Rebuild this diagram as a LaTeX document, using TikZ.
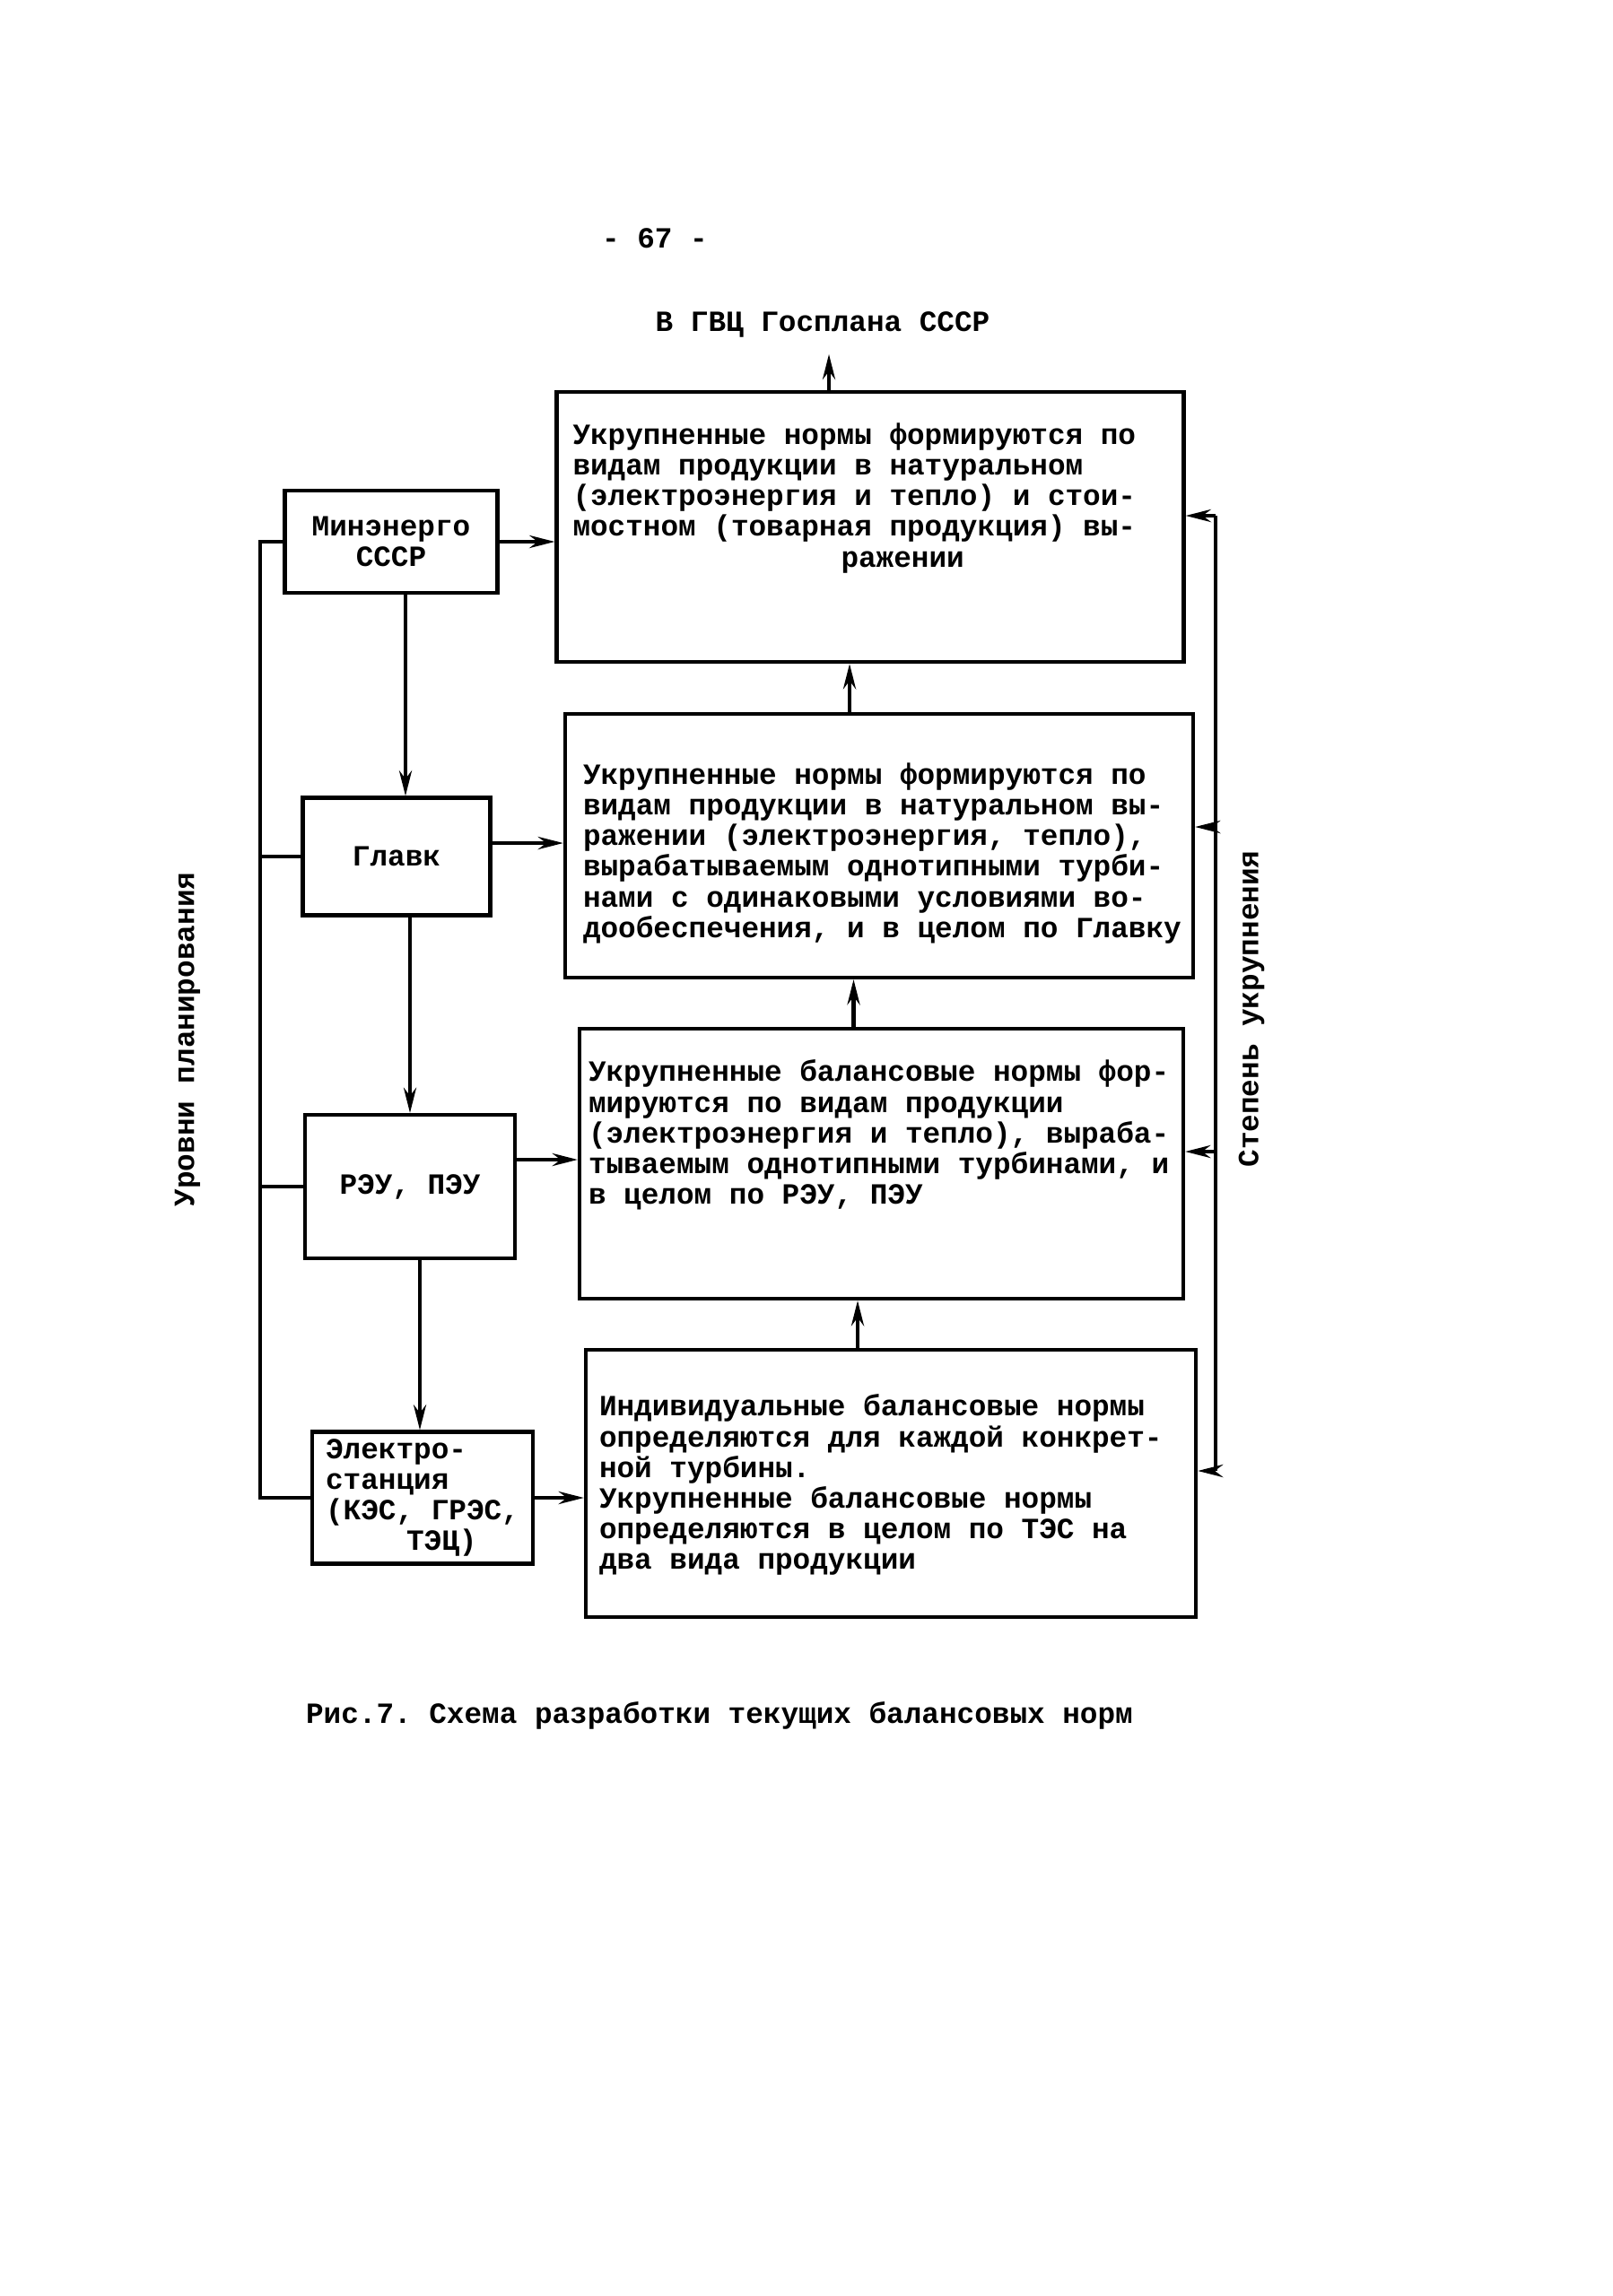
\documentclass[tikz,border=0pt]{standalone}
\usepackage{fontspec}
\setmonofont{Liberation Mono}
\usetikzlibrary{positioning, arrows.meta}

\begin{document}
\begin{tikzpicture}[
  line width=1.2pt,
  every node/.style={font=\ttfamily\bfseries\fontsize{9.3}{9.7}\selectfont},
  arr/.style={-{Stealth[length=8pt, width=4pt]}},
  normbox/.style={draw, inner sep=0pt},
  levelbox/.style={draw, inner sep=2pt, align=left},
  normtext/.style={inner sep=0pt, align=left, anchor=north west},
]

% page frame
\useasboundingbox (0,0) rectangle (17.97,-25.60);

% page number and destination
\node (pg) at (7.30,-2.66) {- 67 -};
\node (gvc) at (9.17,-3.62) {В ГВЦ Госплана СССР};

% right column: norm boxes
\node[normbox, minimum width=6.99cm, minimum height=3.01cm] (b1) at (9.70,-5.875) {};
\node[normbox, minimum width=7.00cm, minimum height=2.94cm] (b2) at (9.80,-9.43) {};
\node[normbox, minimum width=6.73cm, minimum height=3.01cm] (b3) at (9.825,-12.975) {};
\node[normbox, minimum width=6.80cm, minimum height=2.98cm] (b4) at (9.93,-16.54) {};

\node[normtext, below right=0.35 and 0.18 of b1.north west] (t1)
  {Укрупненные нормы формируются по\\
   видам продукции в натуральном\\
   (электроэнергия и тепло) и стои-\\
   мостном (товарная продукция) вы-\\
   \hspace*{2.99cm}ражении};
\node[normtext, below right=0.55 and 0.20 of b2.north west] (t2)
  {Укрупненные нормы формируются по\\
   видам продукции в натуральном вы-\\
   ражении (электроэнергия, тепло),\\
   вырабатываемым однотипными турби-\\
   нами с одинаковыми условиями во-\\
   дообеспечения, и в целом по Главку};
\node[normtext, below right=0.35 and 0.10 of b3.north west] (t3)
  {Укрупненные балансовые нормы фор-\\
   мируются по видам продукции\\
   (электроэнергия и тепло), выраба-\\
   тываемым однотипными турбинами, и\\
   в целом по РЭУ, ПЭУ};
\node[normtext, below right=0.50 and 0.15 of b4.north west] (t4)
  {Индивидуальные балансовые нормы\\
   определяются для каждой конкрет-\\
   ной турбины.\\
   Укрупненные балансовые нормы\\
   определяются в целом по ТЭС на\\
   два вида продукции};

% left column: levels
\node[levelbox, minimum width=2.37cm, minimum height=1.14cm, align=center] (m) at (4.36,-6.04) {Минэнерго\\СССР};
\node[levelbox, minimum width=2.09cm, minimum height=1.31cm] (g) at (4.42,-9.55) {Главк};
\node[levelbox, minimum width=2.34cm, minimum height=1.60cm] (p) at (4.57,-13.23) {РЭУ, ПЭУ};
\node[levelbox, minimum width=2.46cm, minimum height=1.47cm] (e) at (4.71,-16.70)
  {Электро-\\станция\\(КЭС, ГРЭС,\\\hspace*{0.9cm}ТЭЦ)};

% side labels
\node[rotate=90] (lvl) at (2.09,-11.59) {Уровни планирования};
\node[rotate=90] (deg) at (13.95,-11.25) {Степень укрупнения};

% levels -> boxes
\draw[arr] (m.east) -- (m.east -| b1.west);
\draw[arr] ([yshift=0.15cm]g.east) -- ([yshift=0.15cm]g.east -| b2.west);
\draw[arr] ([yshift=0.3cm]p.east) -- ([yshift=0.3cm]p.east -| b3.west);
\draw[arr] (e.east) -- (e.east -| b4.west);

% down the levels
\draw[arr] ([xshift=0.16cm]m.south) -- ([xshift=0.16cm]m.south |- g.north);
\draw[arr] ([xshift=0.15cm]g.south) -- ([xshift=0.15cm]g.south |- p.north);
\draw[arr] ([xshift=0.11cm]p.south) -- ([xshift=0.11cm]p.south |- e.north);

% up the norm boxes
\draw[arr] ([xshift=-0.46cm]b1.north) -- ++(0,0.40);
\draw[arr] ([xshift=-0.33cm]b2.north) -- ([xshift=-0.33cm]b2.north |- b1.south);
\draw[arr] ([xshift=-0.31cm]b3.north) -- ([xshift=-0.31cm]b3.north |- b2.south);
\draw[arr] ([xshift=-0.37cm]b4.north) -- ([xshift=-0.37cm]b4.north |- b3.south);

% left bracket
\coordinate (l1) at (2.90,-6.04);
\draw (m.west) -- (m.west -| l1) -- (e.west -| l1) -- (e.west);
\draw (g.west -| l1) -- (g.west);
\draw (p.west -| l1) -- (p.west);

% right bracket
\coordinate (r1) at (13.55,-5.75);
\coordinate (r2) at (13.55,-9.22);
\coordinate (r3) at (13.55,-12.84);
\coordinate (r4) at (13.55,-16.40);
\draw (r1) -- (r4);
\draw[arr] (r1) -- (r1 -| b1.east);
\draw[arr] (r2) -- (r2 -| b2.east);
\draw[arr] (r3) -- (r3 -| b3.east);
\draw[arr] (r4) -- (r4 -| b4.east);

% caption
\node (cap) at (8.02,-19.13) {Рис.7. Схема разработки текущих балансовых норм};

\end{tikzpicture}
\end{document}
